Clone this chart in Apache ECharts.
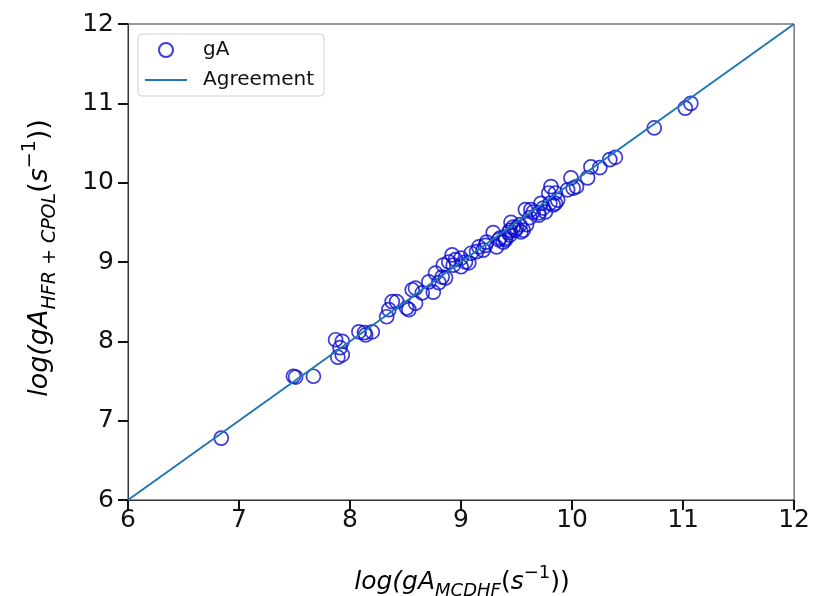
<!DOCTYPE html>
<html>
<head>
<meta charset="utf-8">
<script src="https://cdn.jsdelivr.net/npm/echarts@6/dist/echarts.min.js"></script>
<style>
  html, body { margin: 0; padding: 0; background: #fff; }
  #chart { width: 813px; height: 596px; }
</style>
</head>
<body>
<div id="chart"></div>
<script>
// log(gA) from MCDHF (x) against HFR + CPOL (y)
const gaMcdhf = [
  6.84, 7.49, 7.51, 7.67, 7.87, 7.93, 7.91, 7.89, 7.93, 8.08,
  8.14, 8.20, 8.13, 8.33, 8.35, 8.42, 8.38, 8.51, 8.53, 8.59,
  8.56, 8.59, 8.65, 8.71, 8.75, 8.80, 8.83, 8.77, 8.86, 8.84,
  8.89, 8.92, 8.93, 8.95, 9.00, 9.00, 9.04, 9.07, 9.09, 9.14,
  9.16, 9.20, 9.22, 9.23, 9.29, 9.32, 9.34, 9.35, 9.38, 9.40,
  9.40, 9.43, 9.44, 9.44, 9.45, 9.47, 9.49, 9.50, 9.53, 9.54,
  9.56, 9.58, 9.59, 9.62, 9.63, 9.65, 9.70, 9.70, 9.72, 9.74,
  9.76, 9.79, 9.80, 9.81, 9.83, 9.85, 9.85, 9.87, 9.96, 9.99,
  10.01, 10.04, 10.14, 10.17, 10.25, 10.34, 10.39, 10.74, 11.02, 11.07
];
const gaHfrCpol = [
  6.78, 7.56, 7.55, 7.56, 8.02, 8.00, 7.92, 7.80, 7.83, 8.12,
  8.08, 8.12, 8.11, 8.31, 8.40, 8.50, 8.50, 8.42, 8.40, 8.48,
  8.65, 8.67, 8.61, 8.75, 8.62, 8.74, 8.81, 8.86, 8.80, 8.96,
  9.00, 9.09, 8.96, 9.03, 8.94, 9.05, 9.00, 8.99, 9.11, 9.13,
  9.19, 9.15, 9.21, 9.25, 9.37, 9.19, 9.28, 9.30, 9.25, 9.28,
  9.30, 9.37, 9.34, 9.40, 9.50, 9.44, 9.40, 9.43, 9.47, 9.38,
  9.40, 9.66, 9.47, 9.56, 9.66, 9.63, 9.62, 9.59, 9.74, 9.68,
  9.63, 9.87, 9.74, 9.95, 9.72, 9.74, 9.87, 9.78, 9.91, 10.06,
  9.93, 9.95, 10.06, 10.20, 10.19, 10.29, 10.32, 10.69, 10.94, 11.00
];
// y = x agreement line end points
const agreementX = [6, 12];
const agreementY = [6, 12];
const axisMin = 6, axisMax = 12, axisStep = 1;

const FONT = 'DejaVu Sans';
const MARKER = '#0b0bd0';
const chart = echarts.init(document.getElementById('chart'), null, { renderer: 'canvas' });

function axis(labelMargin) {
  return {
    type: 'value',
    min: axisMin, max: axisMax, interval: axisStep,
    splitLine: { show: false },
    axisLine: { show: true, onZero: false, lineStyle: { color: '#333', width: 1 } },
    axisTick: { show: true, length: 10, lineStyle: { color: '#111', width: 2 } },
    axisLabel: { color: '#111', fontFamily: FONT, fontSize: 25, margin: labelMargin }
  };
}

function titleRich(base) {
  const small = Math.round(base * 0.72);
  const lh = Math.round(base * 1.45);
  return {
    it: { fontFamily: FONT, fontStyle: 'italic', fontSize: base, color: '#111', lineHeight: lh },
    up: { fontFamily: FONT, fontSize: base, color: '#111', lineHeight: lh },
    sub: { fontFamily: FONT, fontStyle: 'italic', fontSize: small, color: '#111', verticalAlign: 'bottom', lineHeight: lh },
    sup: { fontFamily: FONT, fontSize: small, color: '#111', verticalAlign: 'top', lineHeight: lh }
  };
}

chart.setOption({
  animation: false,
  backgroundColor: '#fff',
  grid: { left: 128, right: 16, top: 24, bottom: 96, show: true, borderColor: '#333', borderWidth: 1, backgroundColor: 'transparent' },
  xAxis: axis(8),
  yAxis: axis(14),
  legend: {
    orient: 'vertical',
    left: 138, top: 34,
    padding: [6, 10, 6, 7],
    itemGap: 10,
    itemWidth: 42, itemHeight: 14,
    borderColor: '#d0d0d0', borderWidth: 1, borderRadius: 4,
    backgroundColor: '#fff',
    textStyle: { fontFamily: FONT, fontSize: 20, color: '#111', padding: [0, 0, 0, 11] },
    data: [
      { name: 'gA', icon: 'emptyCircle', itemStyle: { color: MARKER, borderColor: MARKER, borderWidth: 1.6 } },
      { name: 'Agreement', icon: 'path://M0,0 L21,0 L21,1 L0,1 Z', itemStyle: { color: '#1f77b4', borderWidth: 0 } }
    ]
  },
  graphic: [
    {
      type: 'text', x: 462, y: 582,
      style: {
        text: '{it|log(gA}{sub|MCDHF}{up|(}{it|s}{sup|−1}{up|))}',
        rich: titleRich(25), align: 'center', verticalAlign: 'middle'
      }
    },
    {
      type: 'text', x: 40, y: 258, rotation: Math.PI / 2,
      style: {
        text: '{it|log(gA}{sub|HFR + CPOL}{up|(}{it|s}{sup|−1}{up|))}',
        rich: titleRich(27), align: 'center', verticalAlign: 'middle'
      }
    }
  ],
  series: [
    {
      name: 'gA',
      type: 'scatter',
      symbol: 'circle',
      symbolSize: 14,
      itemStyle: { color: 'rgba(0,0,0,0)', borderColor: MARKER, borderWidth: 1.7 },
      data: gaMcdhf.map((x, i) => [x, gaHfrCpol[i]]),
      z: 2
    },
    {
      name: 'Agreement',
      type: 'line',
      symbol: 'none',
      lineStyle: { color: '#1f77b4', width: 2 },
      itemStyle: { color: '#1f77b4' },
      data: agreementX.map((x, i) => [x, agreementY[i]]),
      z: 3
    }
  ]
});
</script>
</body>
</html>
